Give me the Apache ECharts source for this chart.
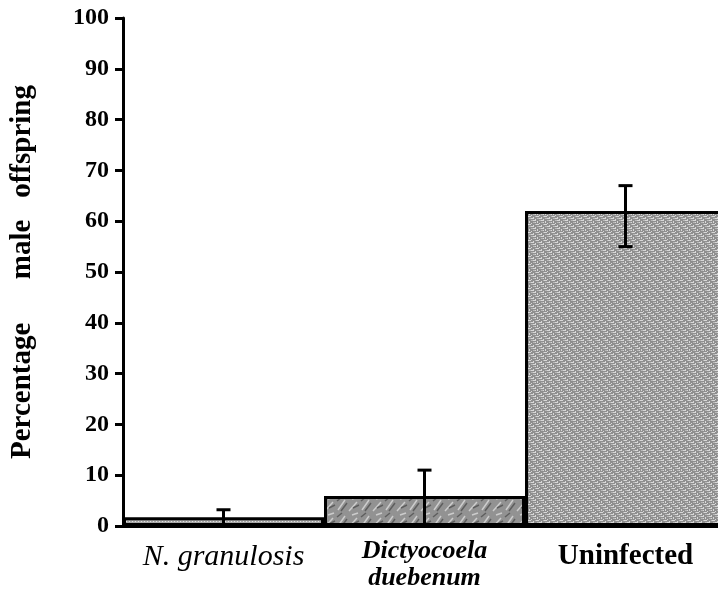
<!DOCTYPE html>
<html>
<head>
    <meta charset="utf-8">
    <script src="https://cdn.jsdelivr.net/npm/echarts@6/dist/echarts.min.js"></script>
    <style>
        html, body { margin: 0; padding: 0; background: #fff; }
        #chart { width: 718px; height: 598px; }
    </style>
</head>
<body>
<div id="chart"></div>
<script type="text/javascript">
    // 数据
    var categories = ['N. granulosis', 'Dictyocoela duebenum', 'Uninfected'];
    var maleValues = [1.7, 5.9, 62];
    var errLow = [0, 0, 55];
    var errHigh = [3.2, 11, 67];
    var yTicks = [0, 10, 20, 30, 40, 50, 60, 70, 80, 90, 100];

    // 纹理填充
    function makeTile(w, h, draw) {
        var c = document.createElement('canvas');
        c.width = w;
        c.height = h;
        draw(c.getContext('2d'));
        return c;
    }

    // 细点纹理 (第一组)
    var tileDots = makeTile(6, 4, function (ctx) {
        ctx.fillStyle = '#a9a9a9';
        ctx.fillRect(0, 0, 6, 4);
        ctx.fillStyle = '#e2e2e2';
        ctx.fillRect(0, 1, 1, 1);
        ctx.fillRect(3, 1, 1, 1);
        ctx.fillStyle = '#7a7a7a';
        ctx.fillRect(1, 3, 2, 1);
        ctx.fillRect(4, 3, 1, 1);
    });

    // 斑驳纹理 (第二组)
    var tileMottle = makeTile(24, 16, function (ctx) {
        ctx.fillStyle = '#929292';
        ctx.fillRect(0, 0, 24, 16);
        ctx.strokeStyle = '#cccccc';
        ctx.lineWidth = 1.5;
        ctx.beginPath();
        ctx.moveTo(2, 14); ctx.lineTo(9, 4);
        ctx.moveTo(13, 15); ctx.lineTo(21, 6);
        ctx.moveTo(16, 3); ctx.lineTo(22, 1);
        ctx.stroke();
        ctx.strokeStyle = '#5e5e5e';
        ctx.beginPath();
        ctx.moveTo(5, 15); ctx.lineTo(11, 7);
        ctx.moveTo(17, 12); ctx.lineTo(23, 9);
        ctx.moveTo(1, 5); ctx.lineTo(6, 1);
        ctx.stroke();
    });

    // 编织纹理 (未感染组)
    var tileWeave = makeTile(8, 8, function (ctx) {
        ctx.fillStyle = '#8f8f8f';
        ctx.fillRect(0, 0, 8, 8);
        ctx.fillStyle = '#d8d8d8';
        for (var i = 0; i < 4; i++) {
            ctx.fillRect((i * 2) % 8, i * 2, 3, 1);
            ctx.fillRect((i * 2 + 5) % 8, (i * 2 + 1) % 8, 1, 2);
        }
        ctx.fillStyle = '#b8b8b8';
        for (var j = 0; j < 4; j++) {
            ctx.fillRect((j * 2 + 3) % 8, (j * 2 + 4) % 8, 2, 1);
        }
    });

    var fills = [tileDots, tileMottle, tileWeave];

    var barData = [];
    for (var i = 0; i < maleValues.length; i++) {
        barData.push({
            value: maleValues[i],
            itemStyle: { color: { image: fills[i], repeat: 'repeat' } }
        });
    }

    var errData = [];
    for (var k = 0; k < categories.length; k++) {
        errData.push([k, errLow[k], errHigh[k]]);
    }

    var serif = 'Liberation Serif';

    var chart = echarts.init(document.getElementById('chart'));
    var option = {
        animation: false,
        grid: {
            left: 123,
            width: 603,
            top: 18,
            bottom: 72,
            outerBoundsMode: 'none'
        },
        xAxis: {
            type: 'category',
            data: categories,
            axisLine: { lineStyle: { color: '#000', width: 3 } },
            axisTick: { show: false },
            axisLabel: {
                interval: 0,
                margin: 12,
                formatter: function (v) {
                    if (v === 'N. granulosis') return '{a|N. granulosis}';
                    if (v === 'Dictyocoela duebenum') return '{b|Dictyocoela}\n{b|duebenum}';
                    return '{c|' + v + '}';
                },
                rich: {
                    a: { fontFamily: serif, fontStyle: 'italic', fontSize: 30, lineHeight: 38, color: '#000' },
                    b: { fontFamily: serif, fontStyle: 'italic', fontWeight: 'bold', fontSize: 26, lineHeight: 27, color: '#000' },
                    c: { fontFamily: serif, fontWeight: 'bold', fontSize: 29, lineHeight: 38, color: '#000' }
                }
            }
        },
        yAxis: {
            type: 'value',
            min: yTicks[0],
            max: yTicks[yTicks.length - 1],
            interval: 10,
            name: 'Percentage      male   offspring',
            nameLocation: 'middle',
            nameRotate: 90,
            nameGap: 86,
            nameTextStyle: {
                fontFamily: serif,
                fontWeight: 'bold',
                fontSize: 29,
                color: '#000'
            },
            splitLine: { show: false },
            axisLine: { show: true, lineStyle: { color: '#000', width: 3 } },
            axisTick: { show: true, length: 8, lineStyle: { color: '#000', width: 3 } },
            axisLabel: {
                margin: 14,
                fontFamily: serif,
                fontWeight: 'bold',
                fontSize: 24,
                color: '#000'
            }
        },
        series: [
            {
                type: 'bar',
                data: barData,
                barCategoryGap: 0,
                itemStyle: { borderColor: '#000', borderWidth: 3 }
            },
            {
                type: 'custom',
                z: 10,
                data: errData,
                renderItem: function (params, api) {
                    var x = api.value(0);
                    var lo = api.coord([x, api.value(1)]);
                    var hi = api.coord([x, api.value(2)]);
                    var cap = 7;
                    var style = { stroke: '#000', lineWidth: 3 };
                    return {
                        type: 'group',
                        children: [
                            { type: 'line', shape: { x1: hi[0], y1: hi[1], x2: lo[0], y2: lo[1] }, style: style },
                            { type: 'line', shape: { x1: hi[0] - cap, y1: hi[1], x2: hi[0] + cap, y2: hi[1] }, style: style },
                            { type: 'line', shape: { x1: lo[0] - cap, y1: lo[1], x2: lo[0] + cap, y2: lo[1] }, style: style }
                        ]
                    };
                }
            }
        ]
    };
    chart.setOption(option);
</script>
</body>
</html>
